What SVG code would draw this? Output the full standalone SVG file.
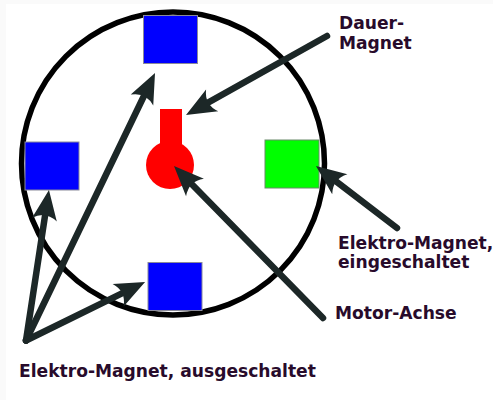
<svg xmlns="http://www.w3.org/2000/svg" width="493" height="400" viewBox="0 0 493 400">
<style>
.mag{stroke:#8a8a9a;stroke-width:1}
.lbl{font-family:"DejaVu Sans",sans-serif;font-weight:700;font-size:17.130px;fill:#280b2b}
#connectors line{stroke:#1c2727;stroke-width:6.500;stroke-linecap:round;marker-end:url(#head)}
</style>
<defs>
<marker id="head" markerUnits="userSpaceOnUse" markerWidth="32" markerHeight="30" refX="15" refY="15" orient="auto" overflow="visible">
<path d="M30 15L0 2.500Q9 15 0 27.500Z" fill="#1c2727"/>
</marker>
</defs>
<rect width="493" height="400" fill="#fafafa"/>
<rect x="6" y="4" width="487" height="396" fill="#fff"/>
<g id="rotor">
<rect x="160" y="109" width="22" height="40" fill="#f00"/>
<circle cx="170" cy="165" r="24" fill="#f00"/>
</g>
<circle id="stator" cx="173" cy="163.500" r="151.500" fill="none" stroke="#000" stroke-width="5.500"/>
<g id="magnet-top"><rect class="mag" x="143.500" y="15.500" width="54" height="48" fill="#00f"/></g>
<g id="magnet-left"><rect class="mag" x="25" y="142" width="54" height="48" fill="#00f"/></g>
<g id="magnet-bottom"><rect class="mag" x="148" y="262.500" width="54" height="48" fill="#00f"/></g>
<g id="magnet-right"><rect x="265" y="140" width="54" height="48" fill="#0f0" stroke="#6a8a6a" stroke-width="1"/></g>
<g id="connectors">
<line x1="327" y1="36" x2="199.100" y2="107.700"/>
<line x1="397" y1="228" x2="327.900" y2="175.100"/>
<line x1="323" y1="318" x2="184.500" y2="176.700"/>
<line x1="26" y1="340.500" x2="46.700" y2="204.800"/>
<line x1="26" y1="340.500" x2="148.500" y2="86.500"/>
<line x1="26" y1="340.500" x2="131.600" y2="288.700"/>
</g>
<g id="labels">
<text class="lbl" x="339" y="29">Dauer-</text>
<text class="lbl" x="339" y="49">Magnet</text>
<text class="lbl" x="338" y="249">Elektro-Magnet,</text>
<text class="lbl" x="338" y="268">eingeschaltet</text>
<text class="lbl" x="335" y="319">Motor-Achse</text>
<text class="lbl" x="19" y="377">Elektro-Magnet, ausgeschaltet</text>
</g>
</svg>
